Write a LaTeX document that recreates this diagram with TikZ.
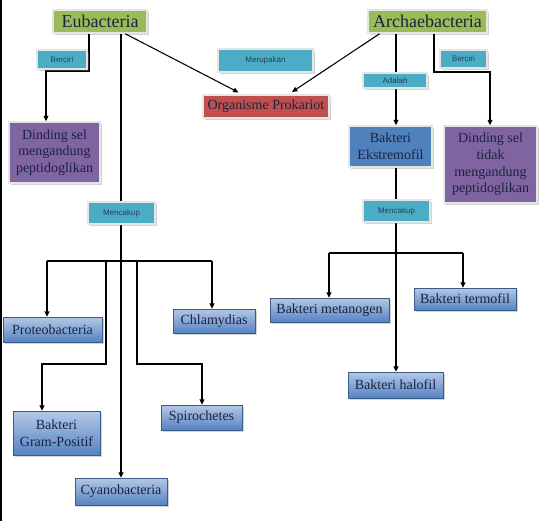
\documentclass[tikz,border=0pt]{standalone}
\usepackage{fontspec}
\setmainfont{Liberation Serif}
\setsansfont{Liberation Sans}
\usetikzlibrary{arrows.meta,shadows}
\definecolor{hijau}{HTML}{9BBB59}
\definecolor{merah}{HTML}{C0504D}
\definecolor{ungu}{HTML}{8064A2}
\definecolor{biru}{HTML}{4F81BD}
\definecolor{birumuda}{HTML}{B4C8E6}
\definecolor{birutua}{HTML}{5583C2}
\definecolor{tosca}{HTML}{4BACC6}
\definecolor{tinta}{HTML}{1B2340}
\tikzset{
	kotak/.style={draw=black!10, line width=1.2pt, inner sep=1pt, align=center,
		text=tinta, font=\fontsize{10.5}{12.5}\selectfont,
		drop shadow={shadow xshift=1.3pt, shadow yshift=-1.3pt, opacity=0.35}},
	judul/.style={kotak, fill=hijau, minimum height=17.25pt, font=\fontsize{13.5}{15}\selectfont},
	daun/.style={kotak, draw=birutua!70!black, line width=0.4pt, top color=birumuda, bottom color=birutua},
	ket/.style={kotak, fill=tosca, line width=1pt, text=tinta!80!tosca, font=\sffamily\fontsize{6}{7}\selectfont},
	panah/.style={-{Triangle[length=4pt,width=3.6pt]}, line width=0.8pt}
}

\begin{document}
\begin{tikzpicture}[x=0.75pt,y=-0.75pt]
	\useasboundingbox (0,0) rectangle (548,521);
	\fill[black] (0,0) rectangle (2,521);
	% kotak utama
	\node[judul, minimum width=70.5pt] (eub) at (100,21.5) {Eubacteria};
	\node[judul, minimum width=89.25pt] (arc) at (427.5,21.5) {Archaebacteria};
	\node[kotak, fill=merah, minimum width=94.5pt, minimum height=17.25pt] (org) at (266,106.5) {Organisme Prokariot};
	\node[kotak, fill=ungu, minimum width=68.25pt, minimum height=45.75pt] (dinA) at (54.5,152.5) {Dinding sel\\mengandung\\peptidoglikan};
	\node[kotak, fill=biru, minimum width=62.25pt, minimum height=30.75pt] (eks) at (390.5,146.5) {Bakteri\\Ekstremofil};
	\node[kotak, fill=ungu, minimum width=69.75pt, minimum height=57.75pt] (dinB) at (490.5,164.5) {Dinding sel\\tidak\\mengandung\\peptidoglikan};
	% cabang Eubacteria
	\node[daun, minimum width=74.25pt, minimum height=18.75pt] (pro) at (52.5,329.5) {Proteobacteria};
	\node[daun, minimum width=61.5pt, minimum height=18pt] (chl) at (214,321) {Chlamydias};
	\node[daun, minimum width=65.25pt, minimum height=33pt] (gram) at (56.5,433) {Bakteri\\Gram-Positif};
	\node[daun, minimum width=60.75pt, minimum height=18.75pt] (spi) at (201.5,417.5) {Spirochetes};
	\node[daun, minimum width=69pt, minimum height=20.25pt] (cya) at (121,491.5) {Cyanobacteria};
	% cabang Archaebacteria
	\node[daun, minimum width=89.25pt, minimum height=18pt] (met) at (329.5,310) {Bakteri metanogen};
	\node[daun, minimum width=76.5pt, minimum height=16.5pt] (ter) at (465,299) {Bakteri termofil};
	\node[daun, minimum width=71.25pt, minimum height=19.5pt] (hal) at (395.5,385) {Bakteri halofil};
	% garis
	\coordinate (b1) at (89,71);
	\coordinate (b2) at (46,71);
	\draw[panah] (eub.south -| b1) |- (b2) -- (dinA.north -| b2);
	\draw[panah] (eub.south -| cya.north) -- (cya.north);
	\draw[panah, shorten >=3pt] ([xshift=19pt]eub.south) -- ([xshift=-18pt]org.north);
	\draw[panah, shorten >=3pt] ([xshift=-36pt]arc.south) -- ([xshift=17pt]org.north);
	\coordinate (c1) at (396,72);
	\coordinate (c2) at (434,72);
	\coordinate (c3) at (490,72);
	\draw[panah] (arc.south -| c1) -- (eks.north -| c1);
	\draw[panah] (arc.south -| c2) |- (c3) -- (dinB.north -| c3);
	\coordinate (t1) at (47,261);
	\coordinate (t2) at (212,261);
	\coordinate (t3) at (106,261);
	\coordinate (t4) at (42,364);
	\coordinate (t5) at (137,261);
	\coordinate (t6) at (202,364);
	\draw[line width=0.8pt] (t1) -- (t2);
	\draw[panah] (t1) -- (pro.north -| t1);
	\draw[panah] (t2) -- (chl.north -| t2);
	\draw[panah] (t3) |- (t4) -- (gram.north -| t4);
	\draw[panah] (t5) |- (t6) -- (spi.north -| t6);
	\coordinate (r1) at (329,253);
	\coordinate (r2) at (463,253);
	\draw[panah] (eks.south -| c1) -- (hal.north -| c1);
	\draw[line width=0.8pt] (r1) -- (r2);
	\draw[panah] (r1) -- (met.north -| r1);
	\draw[panah] (r2) -- (ter.north -| r2);
	% keterangan
	\node[ket, minimum width=37.5pt, minimum height=14.25pt] (berA) at (62,59.5) {Berciri};
	\node[ket, minimum width=71.25pt, minimum height=17.25pt] (mer) at (265.5,60.5) {Merupakan};
	\node[ket, minimum width=48pt, minimum height=11.25pt] (ada) at (395,80.5) {Adalah};
	\node[ket, minimum width=35.25pt, minimum height=13.5pt] (berB) at (463.5,59) {Berciri};
	\node[ket, minimum width=50.25pt, minimum height=16.5pt] (menL) at (121.5,213) {Mencakup};
	\node[ket, minimum width=50.25pt, minimum height=16.5pt] (menR) at (396.5,211) {Mencakup};
\end{tikzpicture}
\end{document}
